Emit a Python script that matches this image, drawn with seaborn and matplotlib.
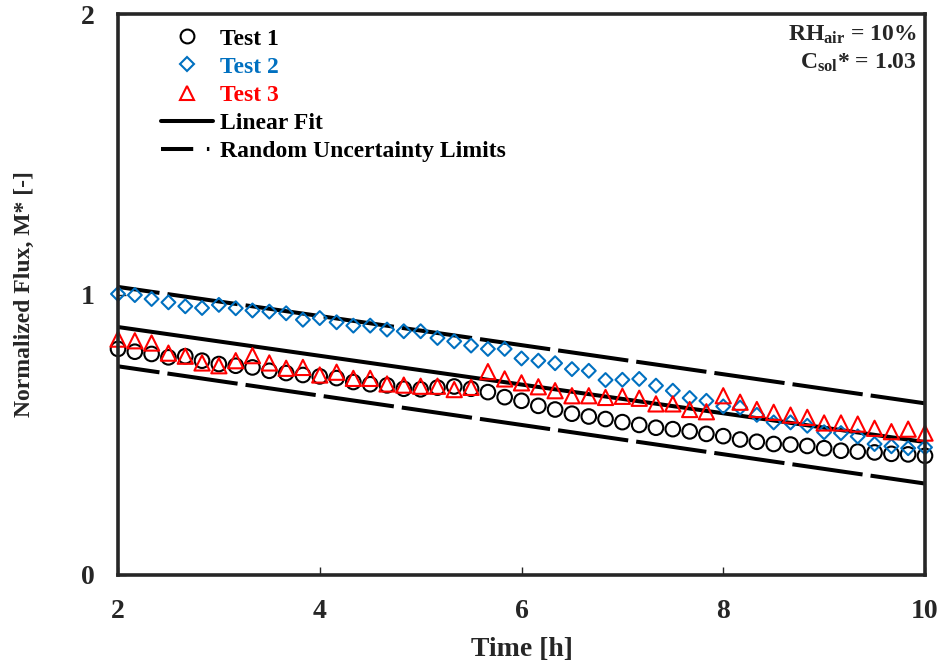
import matplotlib
matplotlib.use("Agg")
import matplotlib.pyplot as plt
from matplotlib.lines import Line2D
import seaborn as sns

# ---------------- data ----------------
time_h = [2.000, 2.167, 2.333, 2.500, 2.667, 2.833, 3.000, 3.167, 3.333, 3.500,
          3.667, 3.833, 4.000, 4.167, 4.333, 4.500, 4.667, 4.833, 5.000, 5.167,
          5.333, 5.500, 5.667, 5.833, 6.000, 6.167, 6.333, 6.500, 6.667, 6.833,
          7.000, 7.167, 7.333, 7.500, 7.667, 7.833, 8.000, 8.167, 8.333, 8.500,
          8.667, 8.833, 9.000, 9.167, 9.333, 9.500, 9.667, 9.833, 10.000]

test1 = [0.806, 0.796, 0.788, 0.776, 0.780, 0.764, 0.752, 0.746, 0.740, 0.728,
         0.720, 0.713, 0.708, 0.702, 0.688, 0.680, 0.676, 0.664, 0.662, 0.668,
         0.672, 0.664, 0.652, 0.634, 0.621, 0.603, 0.590, 0.575, 0.565, 0.556,
         0.545, 0.535, 0.525, 0.520, 0.512, 0.503, 0.495, 0.483, 0.475, 0.467,
         0.465, 0.460, 0.452, 0.443, 0.440, 0.437, 0.432, 0.430, 0.425]

test2 = [1.002, 0.998, 0.984, 0.972, 0.958, 0.952, 0.963, 0.951, 0.943, 0.939,
         0.933, 0.910, 0.916, 0.901, 0.889, 0.889, 0.875, 0.869, 0.869, 0.845,
         0.833, 0.818, 0.806, 0.806, 0.772, 0.764, 0.755, 0.734, 0.728, 0.695,
         0.696, 0.699, 0.675, 0.657, 0.631, 0.621, 0.601, 0.597, 0.571, 0.544,
         0.544, 0.532, 0.509, 0.506, 0.494, 0.467, 0.459, 0.452, 0.455]

test3 = [0.841, 0.835, 0.827, 0.791, 0.780, 0.756, 0.746, 0.764, 0.782, 0.756,
         0.737, 0.740, 0.713, 0.723, 0.701, 0.701, 0.681, 0.677, 0.673, 0.673,
         0.661, 0.669, 0.725, 0.699, 0.685, 0.671, 0.657, 0.639, 0.639, 0.633,
         0.637, 0.630, 0.610, 0.610, 0.590, 0.582, 0.639, 0.616, 0.590, 0.580,
         0.570, 0.562, 0.542, 0.542, 0.538, 0.523, 0.511, 0.520, 0.506]

fit_x = [2.0, 10.0]
fit_y = [0.884, 0.474]
upper_y = [1.027, 0.612]
lower_y = [0.744, 0.326]

series_labels = ["Test 1", "Test 2", "Test 3"]
series_colors = ["#000000", "#0070C0", "#FF0000"]
series_markers = ["o", "D", "^"]
series_sizes = [110, 50, 120]

x_ticks = [2, 4, 6, 8, 10]
y_ticks = [0, 1, 2]

# ---------------- style ----------------
sns.set_style("ticks")
plt.rcParams["font.family"] = ["Liberation Serif", "DejaVu Serif"]
plt.rcParams["font.weight"] = "bold"
plt.rcParams["mathtext.fontset"] = "custom"
plt.rcParams["mathtext.rm"] = "Liberation Serif:bold"
plt.rcParams["mathtext.bf"] = "Liberation Serif:bold"
plt.rcParams["mathtext.it"] = "Liberation Serif:bold"

fig = plt.figure(figsize=(9.42, 6.70), dpi=100)
W, H = 942, 670
L, R, T, B = 118, 925, 14, 575
ax = fig.add_axes([L / W, (H - B) / H, (R - L) / W, (B - T) / H])

# ---------------- fit & uncertainty ----------------
sns.lineplot(x=fit_x, y=fit_y, ax=ax, color="black", linewidth=2.9, zorder=2)
unc_ls = (7.2, (17.6, 2.0))
sns.lineplot(x=fit_x, y=upper_y, ax=ax, color="black", linewidth=2.9,
             linestyle=unc_ls, zorder=2)
sns.lineplot(x=fit_x, y=lower_y, ax=ax, color="black", linewidth=2.9,
             linestyle=unc_ls, zorder=2)

# ---------------- data points ----------------
for vals, lab, col, mk, sz in zip([test1, test2, test3], series_labels,
                                  series_colors, series_markers, series_sizes):
    sns.scatterplot(x=time_h, y=vals, ax=ax, marker=mk, s=sz,
                    facecolor="none", edgecolor=col, linewidth=1.5, zorder=3,
                    clip_on=False)

# ---------------- axes ----------------
ax.set_xlim(2, 10)
ax.set_ylim(0, 2)
ax.set_xticks(x_ticks)
ax.set_yticks(y_ticks)
ax.set_xticklabels([str(v) for v in x_ticks])
ax.set_yticklabels([str(v) for v in y_ticks])
ax.tick_params(direction="in", length=6, width=1, labelsize=20, pad=17,
               top=False, right=False)
for sp in ax.spines.values():
    sp.set_linewidth(2.6)
    sp.set_visible(True)
    sp.set_zorder(4)
ax.set_xlabel("Time [h]", fontsize=20, fontweight="bold", labelpad=10)
ax.set_ylabel("Normalized Flux, M* [-]", fontsize=17, fontweight="bold", labelpad=33)

# ---------------- legend ----------------
handles = []
for lab, col, mk, sz in zip(series_labels, series_colors, series_markers, series_sizes):
    ms = sz ** 0.5
    handles.append(Line2D([], [], linestyle="none", marker=mk, markersize=ms * 0.95,
                          markerfacecolor="none", markeredgecolor=col,
                          markeredgewidth=1.5, label=lab))
handles.append(Line2D([], [], color="black", linewidth=2.9, label="Linear Fit"))
handles.append(Line2D([], [], color="black", linewidth=2.9,
                      linestyle=(0, (8.0, 3.4, 0.6, 10.0)),
                      label="Random Uncertainty Limits"))
leg = ax.legend(handles=handles, loc="upper left",
                bbox_to_anchor=((161 - L) / (R - L), 1 - (28 - T) / (B - T)),
                frameon=False, fontsize=17, handlelength=2.2, handletextpad=0.3,
                labelspacing=0.28, borderpad=0, borderaxespad=0,
                labelcolor=series_colors + ["#000000", "#000000"])
for t in leg.get_texts():
    t.set_fontweight("bold")

# ---------------- annotation ----------------
ax.text(0.990, 0.962, r"RH$_{\mathrm{air}}$ = 10%", transform=ax.transAxes,
        ha="right", va="center", fontsize=17, fontweight="bold")
ax.text(0.990, 0.913, r"C$_{\mathrm{sol}}$* = 1.03", transform=ax.transAxes,
        ha="right", va="center", fontsize=17, fontweight="bold")

fig.savefig("out.png", dpi=100)
